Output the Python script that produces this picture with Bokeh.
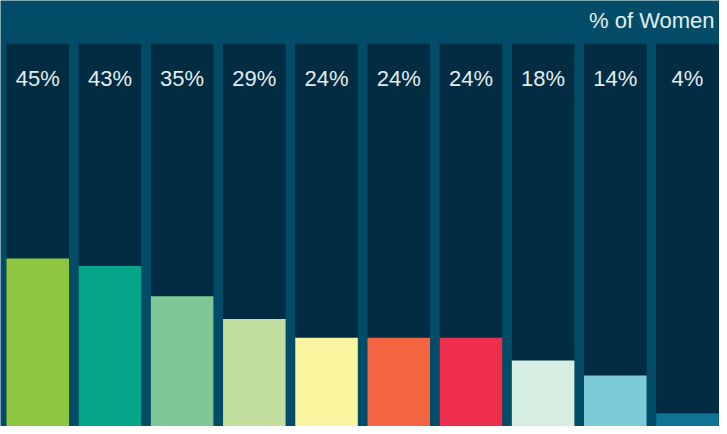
from bokeh.plotting import figure
from bokeh.models import Range1d, ColumnDataSource, Label
from bokeh.core.properties import value
from bokeh.embed import file_html
from bokeh.resources import INLINE

# Data
categories = ["A", "B", "C", "D", "E", "F", "G", "H", "I", "J"]
percents = [45, 43, 35, 29, 24, 24, 24, 18, 14, 4]
labels = ["45%", "43%", "35%", "29%", "24%", "24%", "24%", "18%", "14%", "4%"]
colors = ["#8fc641", "#05a58a", "#7dc796", "#c3df9f", "#faf59e",
          "#f36541", "#ee2e4b", "#d7eee2", "#7ccad8", "#0f7396"]
title_text = "% of Women"

BG = "#034c68"
TRACK = "#022c42"
TEXT = "#e3ecf0"

xs = list(range(len(categories)))
src = ColumnDataSource(dict(x=xs, pct=percents, lab=labels, col=colors,
                            track=[101.8] * len(xs), laby=[92.7] * len(xs)))

p = figure(width=719, height=426, output_backend="svg", toolbar_location=None,
           x_range=Range1d(-0.5158, 9.443), y_range=Range1d(0.52, 113.25),
           min_border=0, background_fill_color=BG, border_fill_color=BG)
p.axis.visible = False
p.grid.visible = False
p.outline_line_color = None

W = 0.867
p.vbar(x="x", top="track", bottom=0, width=W, fill_color=TRACK, line_color=None, source=src)
p.vbar(x="x", top="pct", bottom=0, width=W, fill_color="col", line_color=None, source=src)
p.text(x="x", y="laby", text="lab", source=src, text_align="center",
       text_baseline="middle", text_color=TEXT, text_font=value("Liberation Sans"),
       text_font_size="22px")

p.add_layout(Label(x=9.375, y=108.0, text=title_text, text_align="right",
                   text_baseline="alphabetic", text_color=TEXT,
                   text_font="Liberation Sans", text_font_size="22px"))

open("out.html", "w").write(file_html(p, INLINE))
